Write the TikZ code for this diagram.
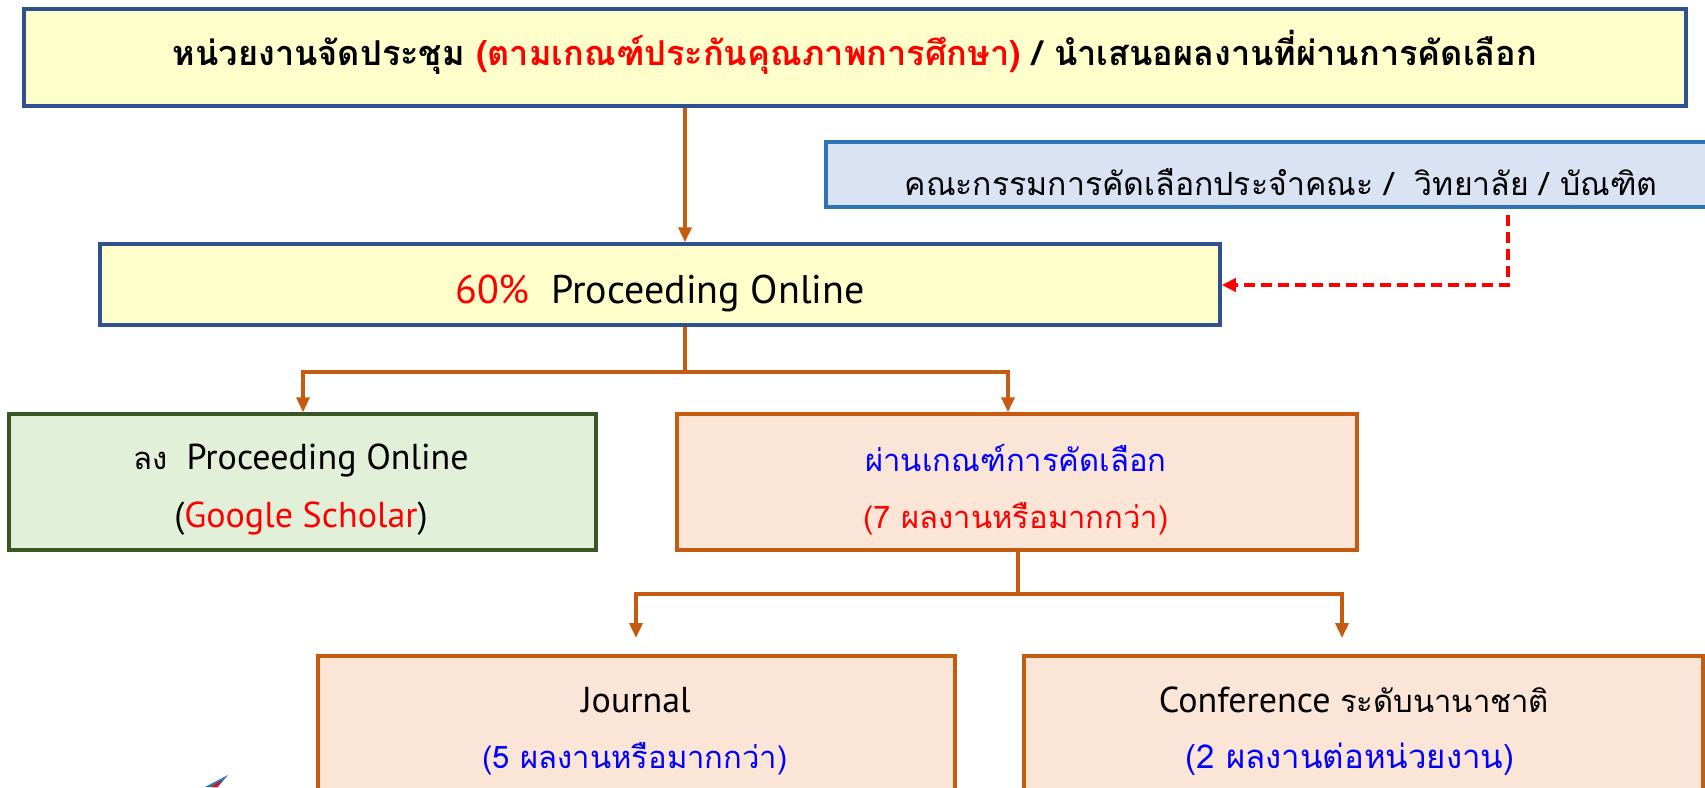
\documentclass[tikz,border=0pt]{standalone}
\usepackage{fontspec}
\setmainfont{PT Sans}
\newfontfamily\thaif[Script=Thai]{Loma}
\usetikzlibrary{arrows.meta,calc}
\definecolor{topblue}{RGB}{47,82,143}
\definecolor{combl}{RGB}{46,117,182}
\definecolor{comfill}{RGB}{218,227,243}
\definecolor{yel}{RGB}{255,255,204}
\definecolor{grn}{RGB}{56,87,35}
\definecolor{grnfill}{RGB}{226,240,217}
\definecolor{org}{RGB}{197,90,17}
\definecolor{orgfill}{RGB}{251,229,214}
\definecolor{rd}{RGB}{255,0,0}
\definecolor{bl}{RGB}{0,0,255}
\newcommand{\thaitx}[1]{{\fontsize{31}{36}\selectfont\thaif #1}}
\begin{document}
\begin{tikzpicture}[x=1pt,y=-1pt,
  box/.style={draw, rectangle, line width=3.5pt, inner sep=0pt},
  txt/.style={anchor=base, inner sep=0pt, font=\fontsize{36}{42}\selectfont},
  conn/.style={draw=org, line width=3.5pt},
  arr/.style={conn, -{Triangle[length=15pt,width=13pt]}},
  reddash/.style={draw=rd, line width=3.5pt, dash pattern=on 11pt off 6pt, -{Triangle[length=14pt,width=13pt]}}]
\useasboundingbox (0,0) rectangle (1705,787);
\clip (0,0) rectangle (1705,787);
% boxes
\node[box, draw=topblue, fill=yel, minimum width=1662pt, minimum height=97pt] (top) at (855,57.5) {};
\node[box, draw=combl, fill=comfill, minimum width=882pt, minimum height=65pt] (com) at (1267,174.5) {};
\node[box, draw=topblue, fill=yel, minimum width=1120pt, minimum height=81pt] (p60) at (660,284.5) {};
\node[box, draw=grn, fill=grnfill, minimum width=587pt, minimum height=136pt] (green) at (302.5,482) {};
\node[box, draw=org, fill=orgfill, minimum width=680pt, minimum height=136pt] (pass) at (1017,482) {};
\node[box, draw=org, fill=orgfill, minimum width=637pt, minimum height=180pt] (journal) at (636.5,746) {};
\node[box, draw=org, fill=orgfill, minimum width=679pt, minimum height=180pt] (conf) at (1363.5,746) {};
% texts
\node[txt, font=\fontsize{34.3}{40}\selectfont\bfseries] (toptxt) at (855,65) {\thaif หน่วยงานจัดประชุม \textcolor{rd}{(ตามเกณฑ์ประกันคุณภาพการศึกษา)} / นำเสนอผลงานที่ผ่านการคัดเลือก};
\node[txt, font=\fontsize{32}{38}\selectfont] (comtxt) at (1281,195) {\thaif คณะกรรมการคัดเลือกประจำคณะ /\ \ วิทยาลัย / บัณฑิต};
\node[txt, font=\fontsize{40}{46}\selectfont] (p60txt) at (660,303) {\textcolor{rd}{60\%}\ \ Proceeding Online};
\node[txt] (gr1) at (301,469) {\thaitx{ลง}\ \ Proceeding Online};
\node[txt] (gr2) at (301,527) {(\textcolor{rd}{Google Scholar})};
\node[txt, text=bl] (pa1) at (1016,471) {\thaitx{ผ่านเกณฑ์การคัดเลือก}};
\node[txt, text=rd] (pa2) at (1016,528) {\thaitx{(7 ผลงานหรือมากกว่า)}};
\node[txt] (jo1) at (636,712) {Journal};
\node[txt, text=bl] (jo2) at (635,768) {\thaitx{(5 ผลงานหรือมากกว่า)}};
\node[txt] (co1) at (1354,712) {Conference \thaitx{ระดับนานาชาติ}};
\node[txt, text=bl, font=\fontsize{33}{40}\selectfont\thaif] (co2) at (1350,768) {(2 ผลงานต่อหน่วยงาน)};
% connector coordinates
\coordinate (x1) at (685,0);
\coordinate (j1) at (685,372);
\coordinate (xg) at (303,0);
\coordinate (xp) at (1008,0);
\coordinate (xs) at (1018,0);
\coordinate (j2) at (1018,594);
\coordinate (jt) at (636,638);
\coordinate (ct) at (1342,638);
\coordinate (d1) at (1508,215);
\coordinate (d2) at (1508,285);
% connectors
\draw[arr] (top.south -| x1) -- (p60.north -| x1);
\draw[conn] (p60.south -| x1) -- (j1);
\draw[arr] (j1) -| (green.north -| xg);
\draw[arr] (j1) -| (pass.north -| xp);
\draw[conn] (pass.south -| xs) -- (j2);
\draw[arr] (j2) -| (jt);
\draw[arr] (j2) -| (ct);
\draw[reddash] (d1) -- (d2) -- (p60.east |- d2);
% small logo fragment
\fill[combl] (205,787) -- (228,775) -- (218,787) -- cycle;
\fill[rd] (211,787) -- (222,780) -- (217,787) -- cycle;
\end{tikzpicture}
\end{document}
